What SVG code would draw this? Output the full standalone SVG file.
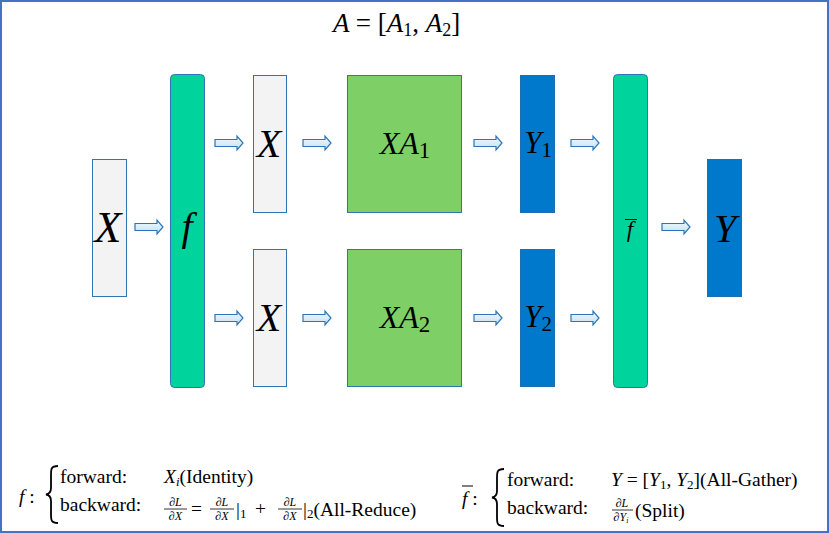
<svg xmlns="http://www.w3.org/2000/svg" width="829" height="533" viewBox="0 0 829 533" font-family="Liberation Serif, serif">
<defs>
<style>
text{font-family:"Liberation Serif",serif;fill:#000}
.m{font-style:italic}
.r{font-style:normal}
.gray{fill:#f3f3f3;stroke:#2e75b6;stroke-width:1}
.blue{fill:#0079cc;stroke:#1f6fb0;stroke-width:1}
.green{fill:#7ed066;stroke:#2e75b6;stroke-width:1}
.teal{fill:#00d49c;stroke:#2e75b6;stroke-width:1}
.arr{fill:url(#ag);stroke:#2e75b6;stroke-width:1.2}
.bar{stroke:#000;stroke-width:0.8}
.brace{fill:none;stroke:#000;stroke-width:1.8}
</style>
<linearGradient id="ag" x1="0" y1="0" x2="0" y2="1">
<stop offset="0" stop-color="#f4fafe"/><stop offset="1" stop-color="#bfe0f4"/>
</linearGradient>
<path id="a" d="M0,-3.5 H22 V-7 L28,0 L22,7 V3.5 H0 Z"/>
</defs>
<rect x="1" y="1" width="827" height="531" fill="#fff" stroke="#4472c4" stroke-width="2"/>
<text class="m" x="333" y="32" font-size="27">A <tspan class="r">= [</tspan>A<tspan class="r" font-size="18" dy="4">1</tspan><tspan class="r" dy="-4">, </tspan>A<tspan class="r" font-size="18" dy="4">2</tspan><tspan class="r" dy="-4">]</tspan></text>
<g id="connectors">
<use href="#a" class="arr" x="135" y="227"/>
<use href="#a" class="arr" x="215" y="143"/>
<use href="#a" class="arr" x="215" y="318"/>
<use href="#a" class="arr" x="303" y="143"/>
<use href="#a" class="arr" x="303" y="318"/>
<use href="#a" class="arr" x="474" y="143"/>
<use href="#a" class="arr" x="474" y="318"/>
<use href="#a" class="arr" x="571" y="143"/>
<use href="#a" class="arr" x="571" y="318"/>
<use href="#a" class="arr" x="662" y="227"/>
</g>
<g id="x-in"><rect class="gray" x="92.5" y="159.5" width="34" height="137"/><text class="m" x="108" y="242" font-size="44" text-anchor="middle">X</text></g>
<g id="f"><rect class="teal" x="170.5" y="74.5" width="34" height="313" rx="4"/><text class="m" x="187" y="240" font-size="40" text-anchor="middle">f</text></g>
<g id="x1"><rect class="gray" x="253.5" y="75.5" width="33" height="137"/><text class="m" x="269" y="157" font-size="40" text-anchor="middle">X</text></g>
<g id="x2"><rect class="gray" x="253.5" y="249.5" width="33" height="137"/><text class="m" x="269" y="331" font-size="40" text-anchor="middle">X</text></g>
<g id="xa1"><rect class="green" x="347.5" y="75.5" width="114" height="137"/><text class="m" x="405" y="154" font-size="32" text-anchor="middle">XA<tspan class="r" font-size="23" dy="4">1</tspan></text></g>
<g id="xa2"><rect class="green" x="347.5" y="249.5" width="114" height="137"/><text class="m" x="405" y="328" font-size="32" text-anchor="middle">XA<tspan class="r" font-size="23" dy="4">2</tspan></text></g>
<g id="y1"><rect class="blue" x="520.5" y="75.5" width="34" height="137"/><text class="m" x="538" y="153" font-size="31" text-anchor="middle">Y<tspan class="r" font-size="21" dy="4">1</tspan></text></g>
<g id="y2"><rect class="blue" x="520.5" y="249.5" width="34" height="137"/><text class="m" x="538" y="327" font-size="31" text-anchor="middle">Y<tspan class="r" font-size="21" dy="4">2</tspan></text></g>
<g id="fbar"><rect class="teal" x="613.5" y="74.5" width="34" height="313" rx="4"/><text class="m" x="630" y="237" font-size="23" text-anchor="middle">f</text><line x1="625" y1="219.5" x2="637" y2="219.5" stroke="#000" stroke-width="1"/></g>
<g id="y"><rect class="blue" x="707.5" y="159.5" width="34" height="137"/><text class="m" x="725" y="242" font-size="40" text-anchor="middle">Y</text></g>
<g id="legend-f" font-size="19.5">
<text class="m" x="19" y="503">f <tspan class="r">:</tspan></text>
<path class="brace" d="M58,466 C51,466 51,469 51,475 V488 C51,492 49,494 46,494.5 C49,495 51,497 51,501 V514 C51,520 51,523 58,523"/>
<text class="r" x="60" y="483">forward:</text>
<text class="m" x="164" y="483">X<tspan font-size="13" dy="3">i</tspan><tspan class="r" dy="-3">(Identity)</tspan></text>
<text class="r" x="60" y="511">backward:</text>
<text class="m" x="175.5" y="506" font-size="12" text-anchor="middle">∂L</text><line class="bar" x1="164" y1="509" x2="187" y2="509"/><text class="m" x="175.5" y="520" font-size="12" text-anchor="middle">∂X</text>
<text class="r" x="191" y="515">=</text>
<text class="m" x="222" y="506" font-size="12" text-anchor="middle">∂L</text><line class="bar" x1="210" y1="509" x2="234" y2="509"/><text class="m" x="222" y="520" font-size="12" text-anchor="middle">∂X</text>
<text class="r" x="236" y="516">|<tspan font-size="13" dy="2">1</tspan></text>
<text class="r" x="255" y="515">+</text>
<text class="m" x="290" y="506" font-size="12" text-anchor="middle">∂L</text><line class="bar" x1="278" y1="509" x2="302" y2="509"/><text class="m" x="290" y="520" font-size="12" text-anchor="middle">∂X</text>
<text class="r" x="303" y="516">|<tspan font-size="13" dy="2">2</tspan><tspan dy="-2">(All-Reduce)</tspan></text>
</g>
<g id="legend-fbar" font-size="19.5">
<text class="m" x="462" y="505">f <tspan class="r">:</tspan></text>
<line x1="462" y1="486" x2="473" y2="486" stroke="#000" stroke-width="1"/>
<path class="brace" d="M504,469 C497,469 497,472 497,478 V491 C497,495 495,497 492,497.5 C495,498 497,500 497,504 V517 C497,523 497,526 504,526"/>
<text class="r" x="507" y="486">forward:</text>
<text class="m" x="611" y="486">Y <tspan class="r">= [</tspan>Y<tspan class="r" font-size="13" dy="3">1</tspan><tspan class="r" dy="-3">, </tspan>Y<tspan class="r" font-size="13" dy="3">2</tspan><tspan class="r" dy="-3">](All-Gather)</tspan></text>
<text class="r" x="507" y="514">backward:</text>
<text class="m" x="622" y="507" font-size="12" text-anchor="middle">∂L</text>
<line class="bar" x1="612" y1="510" x2="633" y2="510"/>
<text class="m" x="621" y="521" font-size="12" text-anchor="middle">∂Y<tspan font-size="8" dy="2">i</tspan></text>
<text class="r" x="635" y="517">(Split)</text>
</g>
</svg>
